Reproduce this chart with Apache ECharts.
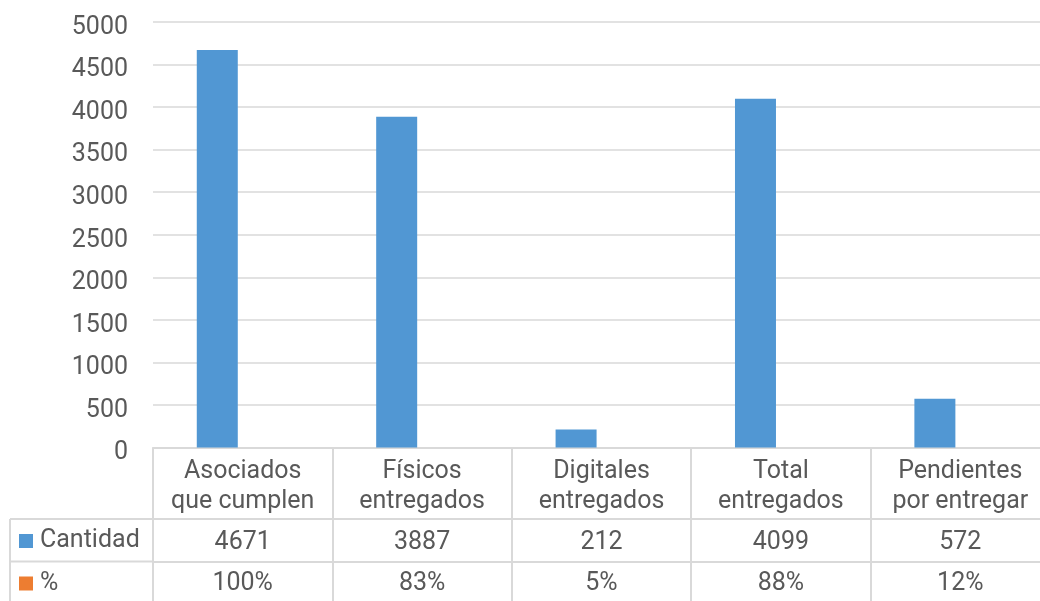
<!DOCTYPE html>
<html>
<head>
<meta charset="utf-8">
<script src="https://cdn.jsdelivr.net/npm/echarts@6/dist/echarts.min.js"></script>
<style>
  html, body { margin: 0; padding: 0; background: #ffffff; overflow: hidden; }
  /* the table's last column runs a little past the right edge of the window */
  #chart { width: 1050px; height: 601px; }
</style>
</head>
<body>
<div id="chart"></div>
<script>
// Categories and series values
const categories = [
  'Asociados\nque cumplen',
  'Físicos\nentregados',
  'Digitales\nentregados',
  'Total\nentregados',
  'Pendientes\npor entregar'
];
const cantidad = [4671, 3887, 212, 4099, 572];
const porcentaje = [100, 83, 5, 88, 12];
const seriesNames = ['Cantidad', '%'];
const yTicks = { min: 0, max: 5000, interval: 500 };

const textColor = '#595959';
const lineColor = '#d9d9d9';
const fontFamily = 'Roboto, "Open Sans", sans-serif';
const fontSize = 25;

// Table geometry (header row + two value rows under the plot)
const plotTop = 22, plotBottom = 447.5;
const headerH = 71.5, rowH = 42.5;
const gridLeft = 153, gridWidth = 897;

const chart = echarts.init(document.getElementById('chart'));

function tableAxis(offset, tickLen, formatter, margin) {
  return {
    type: 'category',
    gridIndex: 0,
    position: 'bottom',
    offset: offset,
    data: categories,
    boundaryGap: true,
    axisLine: { show: true, lineStyle: { color: lineColor, width: 2 } },
    axisTick: { show: true, inside: false, length: tickLen, lineStyle: { color: lineColor, width: 2 } },
    axisLabel: {
      show: true, interval: 0, margin: margin,
      color: textColor, fontSize: fontSize, fontFamily: fontFamily,
      lineHeight: 25,
      formatter: formatter
    },
    splitLine: { show: false }
  };
}

const option = {
  animation: false,
  backgroundColor: '#ffffff',
  grid: {
    left: gridLeft, top: plotTop, width: gridWidth, height: plotBottom - plotTop,
    containLabel: false
  },
  legend: {
    orient: 'vertical',
    left: 19,
    top: 528.5,
    padding: 0,
    itemWidth: 14,
    itemHeight: 14,
    itemGap: 17.5,
    icon: 'rect',
    selectedMode: false,
    textStyle: { color: textColor, fontSize: fontSize, fontFamily: fontFamily, lineHeight: 25, padding: [0, 0, 0, 2] },
    data: seriesNames
  },
  xAxis: [
    {
      type: 'category',
      gridIndex: 0,
      data: categories,
      boundaryGap: true,
      axisLine: { show: true, lineStyle: { color: lineColor, width: 2 } },
      axisTick: { show: true, inside: false, length: headerH, lineStyle: { color: lineColor, width: 2 } },
      axisLabel: {
        interval: 0, margin: 9,
        color: textColor, fontSize: fontSize, fontFamily: fontFamily, lineHeight: 30
      },
      splitLine: { show: false }
    },
    tableAxis(headerH, rowH, (v, i) => String(cantidad[i]), 11),
    tableAxis(headerH + rowH, rowH + 2, (v, i) => porcentaje[i] + '%', 10)
  ],
  yAxis: {
    type: 'value',
    min: yTicks.min, max: yTicks.max, interval: yTicks.interval,
    axisLine: { show: false },
    axisTick: { show: false },
    axisLabel: {
      margin: 25, color: textColor, fontSize: fontSize, fontFamily: fontFamily,
      verticalAlign: 'top', lineHeight: 11,
      formatter: v => String(v)
    },
    splitLine: { lineStyle: { color: lineColor, width: 1.5 } }
  },
  series: [
    {
      name: seriesNames[0],
      type: 'bar',
      xAxisIndex: 0,
      data: cantidad,
      barWidth: 41,
      barGap: '24%',
      itemStyle: { color: '#5197D3' }
    },
    {
      name: seriesNames[1],
      type: 'bar',
      xAxisIndex: 0,
      data: porcentaje.map(p => p / 100),
      barWidth: 41,
      itemStyle: { color: '#ED7D31' }
    }
  ],
  graphic: [
    // left column of the data table (series key cells)
    { type: 'line', shape: { x1: 10, y1: plotBottom + headerH, x2: gridLeft, y2: plotBottom + headerH }, style: { stroke: lineColor, lineWidth: 2 } },
    { type: 'line', shape: { x1: 10, y1: plotBottom + headerH + rowH, x2: gridLeft, y2: plotBottom + headerH + rowH }, style: { stroke: lineColor, lineWidth: 2 } },
    { type: 'line', shape: { x1: 10, y1: plotBottom + headerH, x2: 10, y2: 601 }, style: { stroke: lineColor, lineWidth: 2 } }
  ]
};

chart.setOption(option);
</script>
</body>
</html>
